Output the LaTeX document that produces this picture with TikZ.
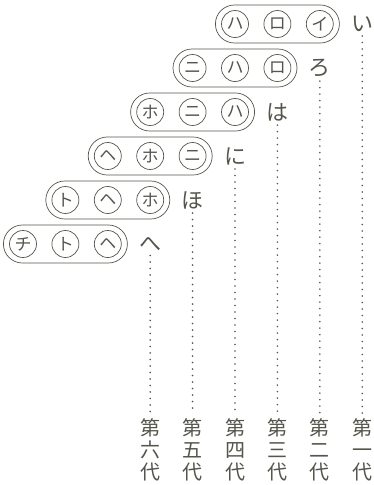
\documentclass[tikz,border=0pt]{standalone}
\usepackage{fontspec}
\newfontfamily\cjk{Noto Sans CJK JP}
\usetikzlibrary{shapes.misc}
\definecolor{ink}{HTML}{55554C}
\tikzset{
 capsule/.style={rounded rectangle, draw=ink, line width=0.7pt, minimum width=124pt, minimum height=38pt, inner sep=0pt},
 kata/.style={circle, draw=ink, line width=0.7pt, minimum size=27pt, inner sep=0pt, text=ink, font=\cjk\fontsize{17}{17}\selectfont},
 hira/.style={text=ink, inner sep=0pt, font=\cjk\fontsize{22}{22}\selectfont},
 gen/.style={text=ink, inner sep=0pt, align=center, font=\cjk\fontsize{20}{22}\selectfont},
 dots/.style={draw=ink, line width=1.8pt, line cap=round, dash pattern=on 0pt off 6.5pt}
}
\begin{document}
\begin{tikzpicture}[x=1pt,y=-1pt]
\useasboundingbox (0,0) rectangle (373,485);
\foreach \r/\a/\b/\c/\h/\g in {1/ハ/ロ/イ/い/一, 2/ニ/ハ/ロ/ろ/二, 3/ホ/ニ/ハ/は/三, 4/ヘ/ホ/ニ/に/四, 5/ト/ヘ/ホ/ほ/五, 6/チ/ト/ヘ/へ/六}{
  \pgfmathsetmacro\y{24+44*(\r-1)}
  \pgfmathsetmacro\xa{23+42.4*(6-\r)}
  \pgfmathsetmacro\xb{23+42.4*(7-\r)}
  \pgfmathsetmacro\xc{23+42.4*(8-\r)}
  \pgfmathsetmacro\xh{23+42.4*(9-\r)}
  \node[capsule] (cap-\r) at (\xb,\y) {};
  \node[kata] (ka-\r) at (\xa,\y) {\a};
  \node[kata] (kb-\r) at (\xb,\y) {\b};
  \node[kata] (kc-\r) at (\xc,\y) {\c};
  \node[hira] (h-\r) at (\xh,\y) {\h};
  \node[gen] (g-\r) at (\xh,450) {第\\\g\\代};
  \draw[dots] ([yshift=-4pt]h-\r.south) -- ([yshift=5pt]g-\r.north);
}
\end{tikzpicture}
\end{document}
